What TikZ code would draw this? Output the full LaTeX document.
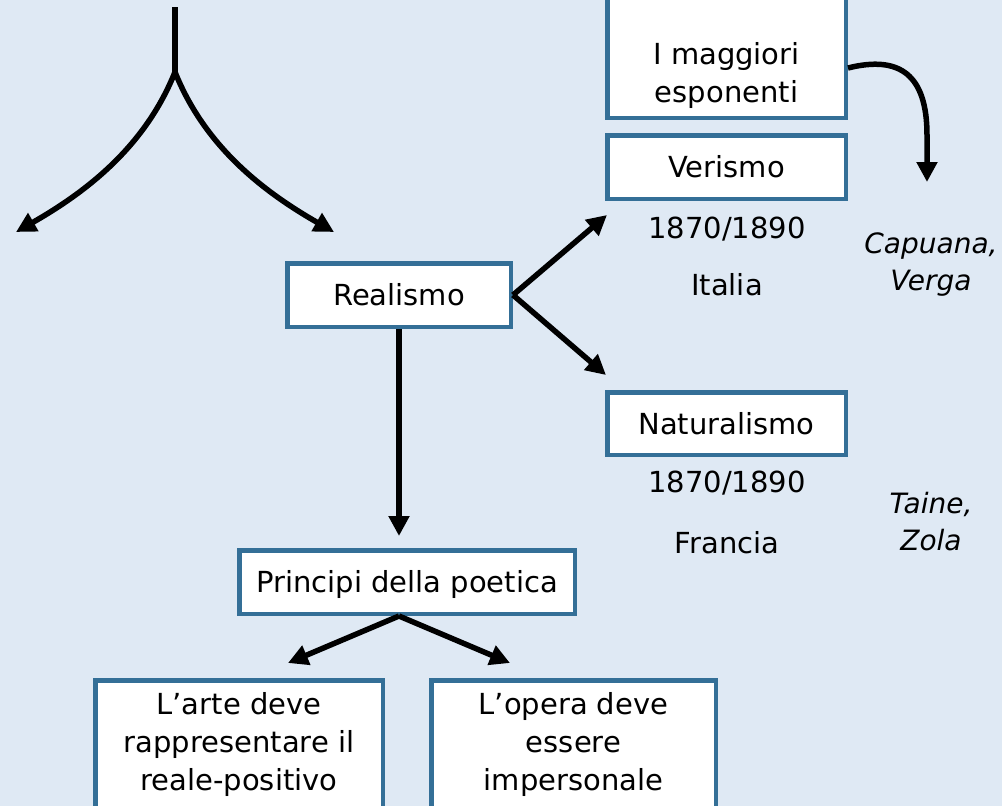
\documentclass[tikz,border=0pt]{standalone}
\usepackage{fontspec}
\setmainfont{DejaVu Sans}
\usepackage{xcolor}
\usepackage{tikz}
\usetikzlibrary{positioning,calc,arrows.meta}
\definecolor{SlideBlue}{RGB}{223,233,244}
\definecolor{FrameBlue}{RGB}{52,111,151}
\tikzset{
    conceptbox/.style={rectangle, draw=FrameBlue, fill=white, line width=4.5pt, inner sep=0pt, align=center, text height=24pt, text depth=3pt, font=\fontsize{29}{38}\selectfont},
    plaintext/.style={anchor=base, align=center, font=\fontsize{29}{38}\selectfont},
    authors/.style={anchor=base, align=center, font=\fontsize{28}{37}\selectfont\itshape},
    link/.style={draw=black, line width=5.5pt, -{Triangle[length=20pt,width=20pt]}}
}
\begin{document}
\begin{tikzpicture}[
                x=1pt, y=-1pt,
                sidebox/.style={
                    conceptbox,
                    minimum width=238.5pt,
                    minimum height=63.5pt
                },
                principlebox/.style={
                    conceptbox,
                    anchor=north,
                    text height=110pt,
                    text depth=150pt
                }
            ]
                \path[use as bounding box] (0,0) rectangle (1002,806);
                \clip (0,0) rectangle (1002,806);
                \fill[SlideBlue] (0,0) rectangle (1002,806);

                \coordinate (trunk) at (175,7);
                \coordinate (fork) at (175,72);
                \coordinate (forkleft) at (16,232);
                \coordinate (forkright) at (334,232);
                \draw[draw=black, line width=5.5pt] (trunk) -- (fork);
                \draw[link] (fork) .. controls (145,147) and (86,192) .. (forkleft);
                \draw[link] (fork) .. controls (205,147) and (264,192) .. (forkright);

                \node[conceptbox, minimum width=223.5pt, minimum height=63.5pt] (realismo) at (399,295) {Realismo};
                \node[conceptbox, minimum width=335.5pt, minimum height=63.5pt] (principi) at (407,582) {Principi della poetica};
                \node[principlebox, minimum width=287.5pt] (arte) at (239,678) {L'arte deve\\rappresentare il\\reale-positivo};
                \node[principlebox, minimum width=284.5pt] (opera) at (573.5,678) {L'opera deve\\essere\\impersonale};

                \node[sidebox, anchor=south, inner ysep=8pt, text height=140pt, text depth=7pt] (maggiori) at (726.5,120) {I maggiori\\esponenti};
                \node[sidebox] (verismo) at (726.5,167) {Verismo};
                \node[plaintext] (datait) at (727,238) {1870/1890};
                \node[plaintext] (italia) at (727,295) {Italia};
                \node[authors] (capuana) at (931,290) {Capuana,\\Verga};

                \node[sidebox, minimum height=62.5pt] (naturalismo) at (726.5,423.5) {Naturalismo};
                \node[plaintext] (datafr) at (727,492) {1870/1890};
                \node[plaintext] (francia) at (727,553) {Francia};
                \node[authors] (taine) at (931,550) {Taine,\\Zola};

                \coordinate (toverismo) at (607,215);
                \coordinate (tonaturalismo) at (606,375);
                \coordinate (toarte) at (288,663);
                \coordinate (toopera) at (510,663);
                \coordinate (tocapuana) at (927,182);
                \draw[link] (realismo.east) -- (toverismo);
                \draw[link] (realismo.east) -- (tonaturalismo);
                \draw[link, shorten >=12pt] (realismo.south) -- (realismo.south |- principi.north);
                \draw[link] (realismo.south |- principi.south) -- (toarte);
                \draw[link] (realismo.south |- principi.south) -- (toopera);
                \draw[link] ([yshift=52pt]maggiori.south east) .. controls (900,55) and (927,75) .. (927,135) -- (tocapuana);
            \end{tikzpicture}
\end{document}
